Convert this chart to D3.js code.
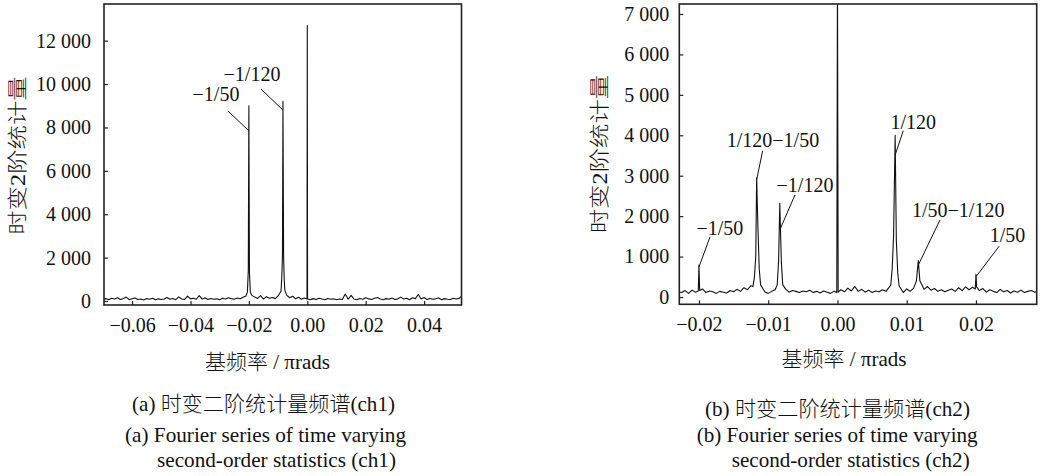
<!DOCTYPE html>
<html>
<head>
<meta charset="utf-8">
<script src="https://cdn.jsdelivr.net/npm/d3@7"></script>
<style>
  body { margin: 0; background: #fff; }
  svg { display: block; font-family: "Liberation Serif", "Times New Roman", "Noto Sans CJK SC", serif; }
  .cjk { font-weight: 300; }
  .ytitle { opacity: 0.99; }
</style>
</head>
<body>
<div id="fig"></div>
<script>
// spectrum ch1: [frequency (pi rad), value]
var ch1Spectrum = [
  [-0.070, 80], [-0.069, 110], [-0.068, 60], [-0.067, 130], [-0.066, 90], [-0.065, 150],
  [-0.064, 70], [-0.063, 120], [-0.062, 180], [-0.061, 60], [-0.060, 100], [-0.059, 140],
  [-0.058, 70], [-0.057, 90], [-0.056, 50], [-0.055, 110], [-0.054, 80], [-0.053, 130],
  [-0.052, 60], [-0.051, 100], [-0.050, 70], [-0.049, 90], [-0.048, 160], [-0.047, 80],
  [-0.046, 120], [-0.045, 60], [-0.044, 190], [-0.043, 90], [-0.042, 70], [-0.041, 220],
  [-0.040, 100], [-0.039, 130], [-0.038, 80], [-0.037, 250], [-0.036, 90], [-0.035, 140],
  [-0.034, 70], [-0.033, 120], [-0.032, 80], [-0.031, 100], [-0.030, 60], [-0.029, 130],
  [-0.028, 90], [-0.027, 150], [-0.026, 110], [-0.025, 80], [-0.024, 140], [-0.023, 100],
  [-0.022, 170], [-0.021, 230],
  [-0.0205, 420], [-0.0202, 1400], [-0.0200, 9000], [-0.0198, 1300], [-0.0195, 400],
  [-0.019, 260], [-0.018, 180], [-0.017, 120], [-0.016, 250], [-0.015, 90], [-0.014, 200],
  [-0.013, 130], [-0.012, 160], [-0.011, 110], [-0.010, 230], [-0.009, 450],
  [-0.0089, 650], [-0.0087, 1200], [-0.0085, 2100], [-0.00833, 9200], [-0.0081, 2000],
  [-0.0079, 1000], [-0.0077, 500],
  [-0.007, 260], [-0.006, 150], [-0.005, 220], [-0.004, 100], [-0.003, 170], [-0.002, 80],
  [-0.001, 140], [-0.0001, 90], [0, 12700], [0.0001, 90],
  [0.001, 60], [0.002, 110], [0.003, 70], [0.004, 130], [0.005, 90], [0.006, 60],
  [0.007, 120], [0.008, 80], [0.009, 100], [0.010, 60], [0.011, 90], [0.012, 70],
  [0.013, 320], [0.014, 80], [0.015, 260], [0.016, 90], [0.017, 60], [0.018, 120],
  [0.019, 80], [0.020, 150], [0.021, 100], [0.022, 70], [0.023, 130], [0.024, 160],
  [0.025, 90], [0.026, 60], [0.027, 110], [0.028, 80], [0.029, 140], [0.030, 70],
  [0.031, 100], [0.032, 180], [0.033, 90], [0.034, 130], [0.035, 60], [0.036, 150],
  [0.037, 110], [0.038, 300], [0.039, 90], [0.040, 160], [0.041, 70], [0.042, 120],
  [0.043, 80], [0.044, 100], [0.045, 140], [0.046, 60], [0.047, 110], [0.048, 80],
  [0.049, 70], [0.050, 130], [0.051, 90], [0.052, 120], [0.053, 250]
]

// spectrum ch2
var ch2Spectrum = [
  [-0.0230, 130], [-0.0225, 110], [-0.0220, 160], [-0.0215, 90], [-0.0210, 170], [-0.0205, 120],
  [-0.0201, 150], [-0.0200, 790], [-0.0199, 160],
  [-0.0195, 200], [-0.0190, 110], [-0.0185, 150], [-0.0180, 130], [-0.0175, 90], [-0.0170, 140],
  [-0.0165, 120], [-0.0160, 100], [-0.0155, 160], [-0.0150, 130], [-0.0145, 190], [-0.0140, 140],
  [-0.0135, 230], [-0.0130, 180], [-0.0125, 280],
  [-0.0122, 260], [-0.0120, 480], [-0.0118, 1000], [-0.01167, 2950], [-0.0115, 1800],
  [-0.0113, 700], [-0.0111, 300],
  [-0.0105, 130], [-0.0100, 90], [-0.0095, 140], [-0.0090, 180],
  [-0.0087, 300], [-0.0085, 900], [-0.00833, 2320], [-0.0081, 850], [-0.0079, 300],
  [-0.0075, 200], [-0.0070, 120], [-0.0065, 160], [-0.0060, 140], [-0.0055, 110], [-0.0050, 150],
  [-0.0045, 130], [-0.0040, 170], [-0.0035, 110], [-0.0030, 140], [-0.0025, 100], [-0.0020, 150],
  [-0.0015, 120], [-0.0010, 90], [-0.0005, 140],
  [-0.0001, 110], [0, 8000], [0.0001, 120],
  [0.0005, 180], [0.0010, 130], [0.0015, 220], [0.0020, 150], [0.0025, 260], [0.0030, 140],
  [0.0035, 190], [0.0040, 120], [0.0045, 170], [0.0050, 110], [0.0055, 150], [0.0060, 130],
  [0.0065, 180], [0.0070, 140], [0.0075, 250],
  [0.0077, 300], [0.0079, 700], [0.0081, 1500], [0.00833, 4000], [0.0085, 1400],
  [0.0087, 600], [0.0089, 280],
  [0.0095, 110], [0.0100, 200], [0.0105, 140], [0.0110, 220],
  [0.0114, 400], [0.01167, 900], [0.0119, 400],
  [0.0125, 190], [0.0130, 260], [0.0135, 170], [0.0140, 210], [0.0145, 140], [0.0150, 180],
  [0.0155, 130], [0.0160, 170], [0.0165, 200], [0.0170, 140], [0.0175, 230], [0.0180, 160],
  [0.0185, 250], [0.0190, 180], [0.0195, 240],
  [0.0199, 200], [0.0200, 560], [0.0201, 250],
  [0.0205, 160], [0.0210, 210], [0.0215, 120], [0.0220, 180], [0.0225, 140], [0.0230, 110],
  [0.0235, 190], [0.0240, 130], [0.0245, 160], [0.0250, 100], [0.0255, 150], [0.0260, 120],
  [0.0265, 170], [0.0270, 110], [0.0275, 140], [0.0280, 160], [0.0285, 120], [0.0290, 150]
]

// tick values
var ch1XTicks = [-0.06, -0.04, -0.02, 0.00, 0.02, 0.04]
var ch1YTicks = [0, 2000, 4000, 6000, 8000, 10000, 12000]
var ch2XTicks = [-0.02, -0.01, 0.00, 0.01, 0.02]
var ch2YTicks = [0, 1000, 2000, 3000, 4000, 5000, 6000, 7000]

// annotations: spike point (f, v), leader start (lf, lv), label anchor (tf, tv)
var ch1Notes = [
  {label: "−1/50", f: -0.02, v: 7840, lf: -0.02715, lv: 8760, tf: -0.03126, tv: 9220},
  {label: "−1/120", f: -0.00833, v: 8800, lf: -0.01585, lv: 9770, tf: -0.01893, tv: 10140}
]
var ch2Notes = [
  {label: "−1/50", f: -0.02, v: 743, lf: -0.01841, lv: 1484, tf: -0.01697, tv: 1534},
  {label: "1/120−1/50", f: -0.01167, v: 2900, lf: -0.0108, lv: 3619, tf: -0.00931, tv: 3710},
  {label: "−1/120", f: -0.00833, v: 1660, lf: -0.00614, lv: 2523, tf: -0.00469, tv: 2597},
  {label: "1/120", f: 0.00833, v: 3510, lf: 0.0095, lv: 4113, tf: 0.01095, tv: 4155},
  {label: "1/50−1/120", f: 0.01167, v: 790, lf: 0.0148, lv: 1905, tf: 0.01744, tv: 1979},
  {label: "1/50", f: 0.02, v: 500, lf: 0.02336, lv: 1261, tf: 0.02455, tv: 1360}
]

var yTitle = "时变2阶统计量"
var xTitle = "基频率 / πrads"
var captions1 = ["(a) 时变二阶统计量频谱(ch1)", "(a) Fourier series of time varying", "second-order statistics (ch1)"]
var captions2 = ["(b) 时变二阶统计量频谱(ch2)", "(b) Fourier series of time varying", "second-order statistics (ch2)"]

var svg = d3.select("#fig").append("svg")
  .attr("width", 1044)
  .attr("height", 476)

var locale = d3.formatLocale({decimal: ".", thousands: " ", grouping: [3], currency: ["", ""], minus: "\u2212"})
var fmtY = locale.format(",")
var fmtX = locale.format(".2f")

function panel(opt) {
  var w = opt.right - opt.left
  var h = opt.bottom - opt.top
  var g = svg.append("g").attr("transform", `translate(${opt.left}, ${opt.top})`)

  var x = d3.scaleLinear().domain(opt.xDomain).range([0, w])
  var y = d3.scaleLinear().domain(opt.yDomain).range([h, 0])

  g.append("clipPath").attr("id", opt.id)
    .append("rect").attr("width", w).attr("height", h)

  // axes (inward ticks)
  var xAxis = g.append("g")
    .attr("transform", `translate(0, ${h})`)
    .call(d3.axisBottom(x).tickValues(opt.xTicks).tickFormat(fmtX).tickSizeInner(-4).tickSizeOuter(0).tickPadding(13))
  var yAxis = g.append("g")
    .call(d3.axisLeft(y).tickValues(opt.yTicks).tickFormat(fmtY).tickSizeInner(-4).tickSizeOuter(0).tickPadding(opt.yPad))

  ;[xAxis, yAxis].forEach(function(a) {
    a.attr("font-family", null).attr("font-size", 20)
    a.select(".domain").remove()
    a.selectAll("line").attr("stroke", "#222").attr("stroke-width", 1.2)
    a.selectAll("text").attr("fill", "#111")
  })

  var line = d3.line().x(d => x(d[0])).y(d => y(d[1]))

  g.append("path")
    .datum(opt.data)
    .attr("clip-path", `url(#${opt.id})`)
    .attr("fill", "none")
    .attr("stroke", "#111")
    .attr("stroke-width", 1.1)
    .attr("stroke-linejoin", "round")
    .attr("d", line)

  // frame
  g.append("rect")
    .attr("width", w).attr("height", h)
    .attr("fill", "none").attr("stroke", "#222").attr("stroke-width", 1.6)

  // annotations
  var notes = g.append("g")
  notes.selectAll("line")
    .data(opt.notes)
    .enter()
    .append("line")
    .attr("x1", d => x(d.lf)).attr("y1", d => y(d.lv))
    .attr("x2", d => x(d.f)).attr("y2", d => y(d.v))
    .attr("stroke", "#111").attr("stroke-width", 1)
  notes.selectAll("text")
    .data(opt.notes)
    .enter()
    .append("text")
    .attr("x", d => x(d.tf)).attr("y", d => y(d.tv))
    .attr("text-anchor", "middle")
    .attr("font-size", 20)
    .attr("fill", "#111")
    .text(d => d.label)

  // titles (y title glyphs are stretched along the text direction, as in the source)
  svg.append("text")
    .attr("class", "cjk ytitle")
    .attr("transform", `translate(${opt.yTitleX}, ${opt.yTitleY}) rotate(-90) scale(1.22, 1)`)
    .attr("text-anchor", "middle")
    .attr("dominant-baseline", "central")
    .attr("font-size", 20)
    .attr("fill", "#111")
    .text(yTitle)

  svg.append("text")
    .attr("class", "cjk")
    .attr("x", opt.xTitleX).attr("y", opt.xTitleY)
    .attr("text-anchor", "middle")
    .attr("font-size", 21)
    .attr("fill", "#111")
    .text(xTitle)

  opt.captions.forEach(function(c, i) {
    svg.append("text")
      .attr("class", i == 0 ? "cjk" : null)
      .attr("x", opt.capX[i]).attr("y", opt.capY[i])
      .attr("font-size", 21)
      .attr("textLength", opt.capW[i])
      .attr("lengthAdjust", "spacingAndGlyphs")
      .attr("fill", "#111")
      .text(c)
  })
}

panel({
  id: "clip1", left: 104, right: 461.5, top: 4, bottom: 305,
  xDomain: [-0.0696, 0.0528], yDomain: [-184, 13690],
  xTicks: ch1XTicks, yTicks: ch1YTicks, yPad: 13,
  data: ch1Spectrum, notes: ch1Notes,
  yTitleX: 18, yTitleY: 155.5,
  xTitleX: 267.5, xTitleY: 369,
  captions: captions1, capX: [132, 125, 157], capY: [411, 442, 467], capW: [263, 281, 239]
})

panel({
  id: "clip2", left: 679.3, right: 1036.7, top: 4, bottom: 304.3,
  xDomain: [-0.02284, 0.02877], yDomain: [-180, 7247],
  xTicks: ch2XTicks, yTicks: ch2YTicks, yPad: 10,
  data: ch2Spectrum, notes: ch2Notes,
  yTitleX: 600.5, yTitleY: 154,
  xTitleX: 844, xTitleY: 366,
  captions: captions2, capX: [705, 696.7, 731.7], capY: [416, 442, 467], capW: [265, 281, 238]
})
</script>
</body>
</html>
